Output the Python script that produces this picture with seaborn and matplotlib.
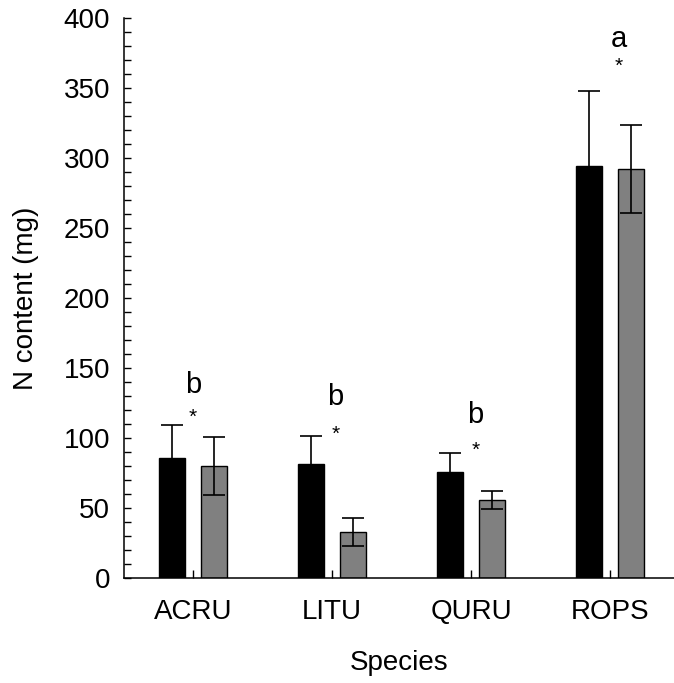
import numpy as np
import pandas as pd
import matplotlib
matplotlib.use("Agg")
import matplotlib.pyplot as plt
import seaborn as sns
from matplotlib.ticker import MultipleLocator

# ---- data ----
species = ["ACRU", "LITU", "QURU", "ROPS"]
treatments = ["Treatment 1", "Treatment 2"]
mean_black = [86, 81.5, 76, 294.5]
err_black = [23, 20, 13, 53.5]
mean_gray = [80, 33, 55.5, 292]
err_gray = [21, 10, 6.5, 31.5]
letters = ["b", "b", "b", "a"]
letter_y = [132, 123.5, 111, 379.5]
star_y = [110.5, 99, 87.5, 361.5]
label_dx = [0.0, 0.025, 0.03, 0.06]
y_ticks = [0, 50, 100, 150, 200, 250, 300, 350, 400]

sns.set_style("ticks")
plt.rcParams["font.family"] = ["Liberation Sans", "DejaVu Sans"]
plt.rcParams["text.color"] = "black"
plt.rcParams["axes.labelcolor"] = "black"
plt.rcParams["xtick.color"] = "black"
plt.rcParams["ytick.color"] = "black"

df = pd.DataFrame({
    "Species": species * 2,
    "Group": [treatments[0]] * len(species) + [treatments[1]] * len(species),
    "N": mean_black + mean_gray,
})

fig = plt.figure(figsize=(6.74, 6.83), dpi=100)
ax = fig.add_axes([124 / 674, 1 - 578 / 683, 1 - 124 / 674, (578 - 18) / 683])

sns.barplot(data=df, x="Species", y="N", hue="Group", order=species,
            hue_order=treatments, palette=["black", "#808080"],
            width=0.6, gap=0.38, edgecolor="black", linewidth=1,
            errorbar=None, legend=False, ax=ax)

for cont, means, errs in zip(ax.containers, [mean_black, mean_gray], [err_black, err_gray]):
    xs = [p.get_x() + p.get_width() / 2 for p in cont.patches]
    ax.errorbar(xs, means, yerr=errs, fmt="none", ecolor="black",
                elinewidth=1.2, capsize=8, capthick=1.2, zorder=5)

for i, sp in enumerate(species):
    ax.text(i + label_dx[i], letter_y[i], letters[i], ha="center", va="baseline",
            fontsize=21, color="black")
    ax.text(i + label_dx[i], star_y[i], "*", ha="center", va="baseline",
            fontsize=15, color="black")

ax.set_xlim(-0.496, 3.46)
ax.set_ylim(0, 400)
ax.set_yticks(y_ticks)
ax.yaxis.set_minor_locator(MultipleLocator(10))

for s in ["top", "right"]:
    ax.spines[s].set_visible(False)
for s in ["left", "bottom"]:
    ax.spines[s].set_linewidth(1.1)
    ax.spines[s].set_color("black")

ax.tick_params(axis="y", which="major", direction="in", length=5, width=1,
               pad=10, labelsize=20, colors="black")
ax.tick_params(axis="y", which="minor", direction="in", length=5, width=1,
               colors="black")
ax.tick_params(axis="x", which="major", direction="in", length=5.5, width=1,
               pad=15, labelsize=20, colors="black")

ax.set_xlabel("Species", fontsize=20, labelpad=18, color="black")
ax.set_ylabel("N content (mg)", fontsize=20, labelpad=18, color="black")

fig.savefig("out.png", dpi=100)
